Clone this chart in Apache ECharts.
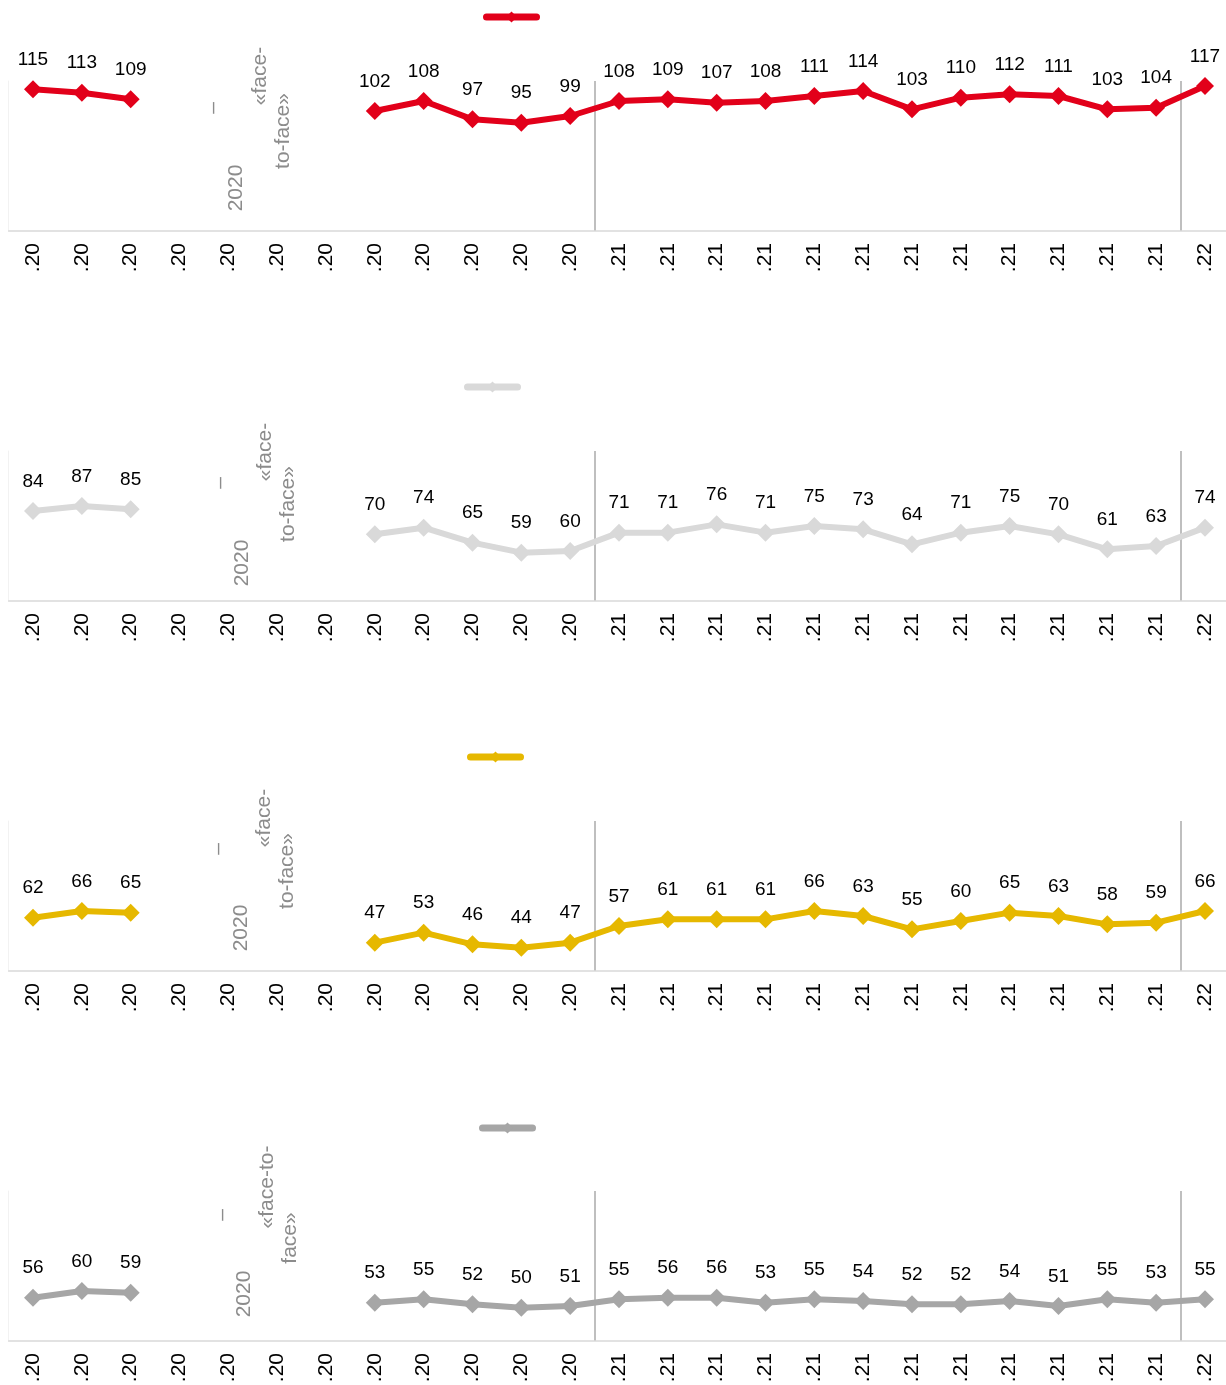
<!DOCTYPE html>
<html>
<head>
<meta charset="utf-8">
<script src="https://cdn.jsdelivr.net/npm/echarts@6/dist/echarts.min.js"></script>
<style>
  html, body { margin: 0; padding: 0; background: #fff; }
  #chart { width: 1226px; height: 1385px; }
</style>
</head>
<body>
<div id="chart"></div>
<script>
// categories: 12 x 2020, 12 x 2021, 1 x 2022
const categories = [
  '.20', '.20', '.20', '.20', '.20', '.20', '.20', '.20', '.20', '.20', '.20', '.20',
  '.21', '.21', '.21', '.21', '.21', '.21', '.21', '.21', '.21', '.21', '.21', '.21',
  '.22'
]

// gap (null) = no survey
const seriesRed = [115, 113, 109, null, null, null, null, 102, 108, 97, 95, 99,
  108, 109, 107, 108, 111, 114, 103, 110, 112, 111, 103, 104, 117]
const seriesLight = [84, 87, 85, null, null, null, null, 70, 74, 65, 59, 60,
  71, 71, 76, 71, 75, 73, 64, 71, 75, 70, 61, 63, 74]
const seriesYellow = [62, 66, 65, null, null, null, null, 47, 53, 46, 44, 47,
  57, 61, 61, 61, 66, 63, 55, 60, 65, 63, 58, 59, 66]
const seriesGray = [56, 60, 59, null, null, null, null, 53, 55, 52, 50, 51,
  55, 56, 56, 53, 55, 54, 52, 52, 54, 51, 55, 53, 55]

const panels = [
  { name: 'a', data: seriesRed, color: '#e2001a', top: 81, legendLeft: 478, legendTop: 5,
    notes: [['–', 213, 108], ['2020', 236, 188], ['«face-', 260, 76], ['to-face»', 283, 131]] },
  { name: 'b', data: seriesLight, color: '#d9d9d9', top: 451, legendLeft: 459, legendTop: 375,
    notes: [['–', 220, 483], ['2020', 242, 563], ['«face-', 265, 452], ['to-face»', 288, 504]] },
  { name: 'c', data: seriesYellow, color: '#e6b800', top: 821, legendLeft: 462, legendTop: 745,
    notes: [['–', 218, 849], ['2020', 241, 928], ['«face-', 264, 818], ['to-face»', 287, 871]] },
  { name: 'd', data: seriesGray, color: '#a6a6a6', top: 1191, legendLeft: 474, legendTop: 1116,
    notes: [['–', 222, 1215], ['2020', 244, 1294], ['«face-to-', 267, 1187], ['face»', 290, 1238]] }
]

const font = 'Liberation Sans, Arial, sans-serif'
const chart = echarts.init(document.getElementById('chart'))

const grid = []
const xAxis = []
const yAxis = []
const series = []
const legend = []
const graphic = []

panels.forEach((p, i) => {
  grid.push({ left: 8.6, width: 1220.8, top: p.top, height: 150, outerBoundsMode: 'none', containLabel: false })
  xAxis.push({
    type: 'category',
    gridIndex: i,
    data: categories,
    boundaryGap: true,
    axisLine: { lineStyle: { color: '#d9d9d9', width: 1.5 } },
    axisTick: { interval: 0, length: 6, lineStyle: { color: '#d9d9d9', width: 1.5 } },
    axisLabel: {
      interval: 0,
      rotate: 90,
      margin: 12,
      color: '#000',
      fontSize: 21,
      fontFamily: font
    },
    splitLine: {
      show: true,
      // year boundaries
      interval: idx => idx === 12 || idx === 24,
      lineStyle: { color: '#bfbfbf', width: 2 }
    }
  })
  yAxis.push({
    type: 'value',
    gridIndex: i,
    min: 30,
    max: 120,
    axisLine: { show: true, lineStyle: { color: '#f2f2f2' } },
    axisTick: { show: false },
    axisLabel: { show: false },
    splitLine: { show: false }
  })
  series.push({
    name: p.name,
    type: 'line',
    xAxisIndex: i,
    yAxisIndex: i,
    data: p.data,
    connectNulls: false,
    symbol: 'diamond',
    symbolSize: 18,
    itemStyle: { color: p.color },
    lineStyle: { color: p.color, width: 6 },
    label: {
      show: true,
      position: 'top',
      distance: 11,
      color: '#000',
      fontSize: 19,
      fontFamily: font
    },
    animation: false
  })
  legend.push({
    data: [p.name],
    left: p.legendLeft,
    top: p.legendTop,
    itemWidth: 50,
    itemHeight: 14,
    lineStyle: { width: 7, cap: 'round' },
    formatter: () => '',
    selectedMode: false
  })
  p.notes.forEach(n => {
    graphic.push({
      type: 'text',
      x: n[1],
      y: n[2],
      rotation: Math.PI / 2,
      style: {
        text: n[0],
        fill: '#8c8c8c',
        font: '21px ' + font,
        align: 'center',
        verticalAlign: 'middle'
      }
    })
  })
})

chart.setOption({
  animation: false,
  grid,
  xAxis,
  yAxis,
  series,
  legend,
  graphic
})
</script>
</body>
</html>
